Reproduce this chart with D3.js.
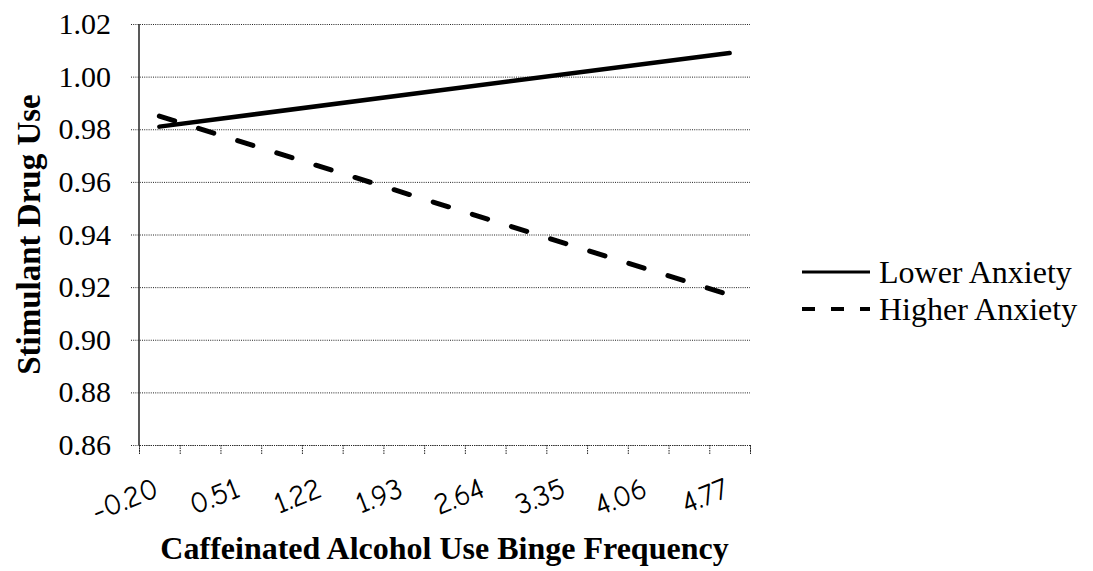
<!DOCTYPE html>
<html>
<head>
<meta charset="utf-8">
<script src="https://cdn.jsdelivr.net/npm/d3@7"></script>
<style>
  body { margin: 0; background: #fff; }
  svg { display: block; }
</style>
</head>
<body>
<div id="visualization"></div>
<script>
// Chart values
var xValues = [-0.20, 4.77];
var lowerAnxiety = [0.981, 1.009];
var higherAnxiety = [0.985, 0.917];
var seriesNames = ["Lower Anxiety", "Higher Anxiety"];
var xTickLabels = ["-0.20", "0.51", "1.22", "1.93", "2.64", "3.35", "4.06", "4.77"];
var yTickValues = [0.86, 0.88, 0.90, 0.92, 0.94, 0.96, 0.98, 1.00, 1.02];

// Category step of the original axis (labels every other category)
var step = 0.355;

// Set up the dimensions of the visualization
var totalWidth = 1093, totalHeight = 571;
var margin = { top: 24, right: 343, bottom: 126, left: 139 };
var width = totalWidth - margin.left - margin.right;
var height = totalHeight - margin.top - margin.bottom;

// Create the SVG container
var svgRoot = d3.select("#visualization")
  .append("svg")
  .attr("width", totalWidth)
  .attr("height", totalHeight);

var svg = svgRoot.append("g")
  .attr("transform", "translate(" + margin.left + "," + margin.top + ")");

// Create scales for x and y axes
var xScale = d3.scaleLinear()
  .domain([xValues[0] - step / 2, xValues[xValues.length - 1] + step / 2])
  .range([0, width]);

var yScale = d3.scaleLinear()
  .domain([0.86, 1.02])
  .range([height, 0]);

// Horizontal dotted gridlines with small left tick marks
svg.append("g")
  .attr("class", "grid")
  .call(d3.axisLeft(yScale).tickValues(yTickValues).tickSize(-width - 8).tickFormat(""))
  .attr("transform", "translate(-8,0)")
  .call(function(g) { g.select(".domain").remove(); })
  .selectAll("line")
  .attr("stroke", "#222")
  .attr("stroke-width", 1)
  .attr("stroke-dasharray", "1,1.2");

// Y axis line
svg.append("line")
  .attr("x1", 0).attr("x2", 0)
  .attr("y1", 0).attr("y2", height)
  .attr("stroke", "#222")
  .attr("stroke-width", 1.5);

// Y tick labels
svg.append("g")
  .call(d3.axisLeft(yScale).tickValues(yTickValues).tickSize(0).tickPadding(28)
    .tickFormat(d3.format(".2f")))
  .call(function(g) { g.select(".domain").remove(); })
  .selectAll("text")
  .attr("font-family", "'Liberation Serif', 'Times New Roman', serif")
  .attr("font-size", "30px")
  .attr("fill", "#000");

// X axis tick marks at category boundaries
var boundaries = d3.range(16).map(function(i) { return xScale.domain()[0] + i * step; });
svg.append("g")
  .attr("transform", "translate(0," + height + ")")
  .call(d3.axisBottom(xScale).tickValues(boundaries).tickSize(9).tickFormat(""))
  .call(function(g) {
    g.select(".domain").attr("stroke", "#222").attr("stroke-dasharray", "1,1.2");
    g.selectAll("line").attr("stroke", "#222").attr("stroke-dasharray", "1.5,1");
  });

// X tick labels, rotated
svg.selectAll(".xlabel")
  .data(xTickLabels)
  .enter().append("text")
  .attr("class", "xlabel")
  .attr("transform", function(d) {
    return "translate(" + (xScale(+d) + 1) + "," + (height + 51) + ") rotate(-22)";
  })
  .attr("text-anchor", "end")
  .attr("font-family", "'Comic Sans MS', 'Comic Neue', 'DejaVu Sans', sans-serif")
  .attr("font-size", "30px")
  .attr("fill", "#000")
  .text(function(d) { return d; });

// Lines
var line = d3.line()
  .x(function(d) { return xScale(d[0]); })
  .y(function(d) { return yScale(d[1]); });

svg.append("path")
  .datum(d3.zip(xValues, lowerAnxiety))
  .attr("d", line)
  .attr("fill", "none")
  .attr("stroke", "#000")
  .attr("stroke-width", 4.5)
  .attr("stroke-linecap", "round");

svg.append("path")
  .datum(d3.zip(xValues, higherAnxiety))
  .attr("d", line)
  .attr("fill", "none")
  .attr("stroke", "#000")
  .attr("stroke-width", 5)
  .attr("stroke-linecap", "round")
  .attr("stroke-dasharray", "16,25");

// Add x-axis label
svgRoot.append("text")
  .attr("x", margin.left + width / 2)
  .attr("y", 559)
  .attr("text-anchor", "middle")
  .attr("font-family", "'Liberation Serif', 'Times New Roman', serif")
  .attr("font-weight", "bold")
  .attr("font-size", "32px")
  .text("Caffeinated Alcohol Use Binge Frequency");

// Add y-axis label
svgRoot.append("text")
  .attr("transform", "translate(40," + (margin.top + height / 2) + ") rotate(-90)")
  .attr("text-anchor", "middle")
  .attr("font-family", "'Liberation Serif', 'Times New Roman', serif")
  .attr("font-weight", "bold")
  .attr("font-size", "33px")
  .text("Stimulant Drug Use");

// Legend
var legend = svgRoot.append("g");
var legendY = [272, 309];
seriesNames.forEach(function(name, i) {
  legend.append("line")
    .attr("x1", 802).attr("x2", 870)
    .attr("y1", legendY[i]).attr("y2", legendY[i])
    .attr("stroke", "#000")
    .attr("stroke-width", i === 0 ? 3 : 4)
    .attr("stroke-dasharray", i === 0 ? null : "13,16");
  legend.append("text")
    .attr("x", 879)
    .attr("y", legendY[i] + 11)
    .attr("font-family", "'Liberation Serif', 'Times New Roman', serif")
    .attr("font-size", "32px")
    .text(name);
});
</script>
</body>
</html>
